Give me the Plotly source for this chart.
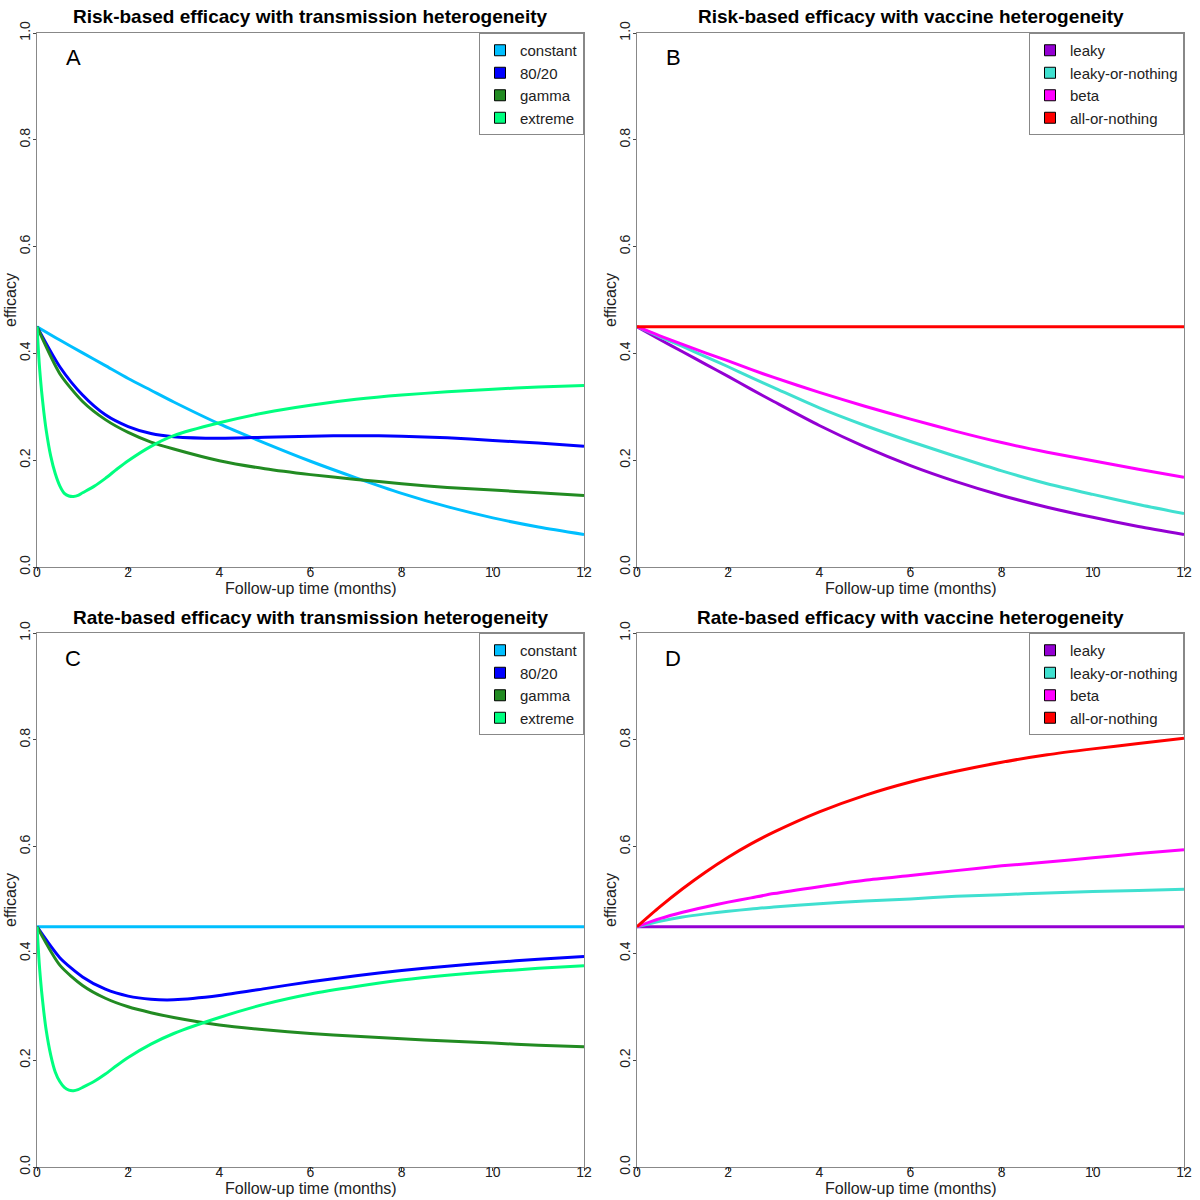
import plotly.graph_objects as go
from plotly.subplots import make_subplots

## Datos (meses de seguimiento vs eficacia)

t_coarse = [0, 0.5, 1, 1.5, 2, 2.5, 3, 4, 5, 6, 7, 8, 9, 10, 11, 12]
t_fine = [0, 0.05, 0.1, 0.15, 0.2, 0.3, 0.4, 0.5, 0.6, 0.7, 0.8, 0.9, 1.0,
          1.25, 1.5, 1.75, 2, 2.5, 3, 4, 5, 6, 7, 8, 9, 10, 11, 12]
t_flat = [0, 12]

# A: risk-based, transmission heterogeneity
a_constant = [0.45, 0.425, 0.401, 0.377, 0.353, 0.331, 0.309, 0.268, 0.232, 0.198,
              0.167, 0.138, 0.113, 0.092, 0.075, 0.061]
a_8020 = [0.45, 0.375, 0.322, 0.285, 0.263, 0.25, 0.244, 0.241, 0.243, 0.245,
          0.246, 0.245, 0.242, 0.237, 0.232, 0.226]
a_gamma = [0.45, 0.362, 0.31, 0.276, 0.252, 0.234, 0.221, 0.199, 0.184, 0.173,
           0.164, 0.156, 0.149, 0.144, 0.139, 0.134]
a_extreme = [0.45, 0.38, 0.33, 0.29, 0.257, 0.208, 0.175, 0.152, 0.138, 0.133,
             0.132, 0.134, 0.139, 0.151, 0.166, 0.183, 0.199, 0.226, 0.246, 0.27,
             0.289, 0.303, 0.314, 0.322, 0.328, 0.333, 0.337, 0.34]

# B: risk-based, vaccine heterogeneity
b_leaky = [0.45, 0.426, 0.403, 0.38, 0.357, 0.333, 0.31, 0.265, 0.225, 0.19,
           0.16, 0.134, 0.112, 0.093, 0.076, 0.061]
b_lon = [0.45, 0.431, 0.413, 0.394, 0.375, 0.355, 0.336, 0.298, 0.265, 0.235,
         0.207, 0.18, 0.156, 0.136, 0.117, 0.10]
b_beta = [0.45, 0.433, 0.417, 0.401, 0.386, 0.37, 0.355, 0.327, 0.301, 0.277,
          0.254, 0.233, 0.215, 0.199, 0.183, 0.168]
b_aon = [0.45, 0.45]

# C: rate-based, transmission heterogeneity
c_constant = [0.45, 0.45]
c_8020 = [0.45, 0.392, 0.356, 0.333, 0.32, 0.314, 0.313, 0.321, 0.334, 0.347,
          0.358, 0.368, 0.376, 0.383, 0.389, 0.394]
c_gamma = [0.45, 0.378, 0.34, 0.316, 0.3, 0.289, 0.28, 0.266, 0.257, 0.25,
           0.245, 0.24, 0.236, 0.232, 0.228, 0.225]
c_extreme = [0.45, 0.38, 0.33, 0.29, 0.257, 0.21, 0.178, 0.16, 0.149, 0.144,
             0.143, 0.145, 0.149, 0.16, 0.174, 0.19, 0.205, 0.23, 0.25, 0.28,
             0.305, 0.324, 0.338, 0.35, 0.359, 0.366, 0.372, 0.377]

# D: rate-based, vaccine heterogeneity
d_leaky = [0.45, 0.45]
d_lon = [0.45, 0.46, 0.468, 0.474, 0.479, 0.483, 0.487, 0.493, 0.498, 0.502,
         0.507, 0.51, 0.513, 0.516, 0.518, 0.52]
d_beta = [0.45, 0.465, 0.477, 0.487, 0.496, 0.504, 0.512, 0.525, 0.537, 0.546,
          0.555, 0.564, 0.571, 0.579, 0.587, 0.594]
d_aon = [0.45, 0.487, 0.521, 0.552, 0.58, 0.605, 0.627, 0.665, 0.696, 0.721,
         0.741, 0.758, 0.772, 0.783, 0.793, 0.803]

titles = ["Risk-based efficacy with transmission heterogeneity",
          "Risk-based efficacy with vaccine heterogeneity",
          "Rate-based efficacy with transmission heterogeneity",
          "Rate-based efficacy with vaccine heterogeneity"]
letters = ["A", "B", "C", "D"]
trans_names = ["constant", "80/20", "gamma", "extreme"]
vacc_names = ["leaky", "leaky-or-nothing", "beta", "all-or-nothing"]
trans_cols = ["#00BFFF", "#0000FF", "#228B22", "#00FF7F"]
vacc_cols = ["#9400D3", "#40E0D0", "#FF00FF", "#FF0000"]
x_ticks = [0, 2, 4, 6, 8, 10, 12]
y_ticks = [0, 0.2, 0.4, 0.6, 0.8, 1.0]
y_ticktext = ["0.0", "0.2", "0.4", "0.6", "0.8", "1.0"]

panels = [
    (1, 1, trans_names, trans_cols,
     [(t_coarse, a_constant), (t_coarse, a_8020), (t_coarse, a_gamma), (t_fine, a_extreme)]),
    (1, 2, vacc_names, vacc_cols,
     [(t_coarse, b_leaky), (t_coarse, b_lon), (t_coarse, b_beta), (t_flat, b_aon)]),
    (2, 1, trans_names, trans_cols,
     [(t_flat, c_constant), (t_coarse, c_8020), (t_coarse, c_gamma), (t_fine, c_extreme)]),
    (2, 2, vacc_names, vacc_cols,
     [(t_flat, d_leaky), (t_coarse, d_lon), (t_coarse, d_beta), (t_coarse, d_aon)]),
]

FONT = "Liberation Sans, Arial, sans-serif"
W = H = 1200

# posiciones de los paneles en pixeles (izq, der, arriba, abajo)
px_x = [(37, 584), (637, 1184)]
px_y = [(33, 567), (633, 1167)]

fig = make_subplots(rows=2, cols=2)

for i, (r, c, names, cols, series) in enumerate(panels):
    leg = "legend" if i == 0 else "legend%d" % (i + 1)
    for k in range(len(series)):
        xs, ys = series[k]
        fig.add_trace(go.Scatter(x=xs, y=ys, mode="lines",
                                 line=dict(color=cols[k], width=3, shape="spline", smoothing=0.7),
                                 showlegend=False, name=names[k]),
                      row=r, col=c)
    # entradas de leyenda con cuadrados
    for k in range(len(names)):
        fig.add_trace(go.Scatter(x=[None], y=[None], mode="markers", name=names[k],
                                 marker=dict(symbol="square", size=11, color=cols[k],
                                             line=dict(color="black", width=1)),
                                 legend=leg),
                      row=r, col=c)

    x0, x1 = px_x[c - 1]
    y0, y1 = px_y[r - 1]
    ax = "" if i == 0 else str(i + 1)
    fig.update_layout({
        "xaxis" + ax: dict(domain=[x0 / W, x1 / W]),
        "yaxis" + ax: dict(domain=[1 - y1 / H, 1 - y0 / H]),
        leg: dict(x=x1 / W, xanchor="right", y=1 - y0 / H, yanchor="top",
                  bgcolor="white", bordercolor="#888888", borderwidth=1,
                  font=dict(family=FONT, size=15, color="#222"),
                  itemwidth=30, tracegroupgap=0),
    })
    # titulo del panel
    fig.add_annotation(text="<b>%s</b>" % titles[i], x=(x0 + x1) / 2 / W, y=1 - (y0 - 16) / H,
                       xref="paper", yref="paper", xanchor="center", yanchor="middle",
                       showarrow=False, font=dict(family=FONT, size=19, color="black"))
    # titulo eje x
    fig.add_annotation(text="Follow-up time (months)", x=(x0 + x1) / 2 / W, y=1 - (y1 + 21) / H,
                       xref="paper", yref="paper", xanchor="center", yanchor="middle",
                       showarrow=False, font=dict(family=FONT, size=16, color="#222"))
    # titulo eje y
    fig.add_annotation(text="efficacy", x=(x0 - 27) / W, y=1 - (y0 + y1) / 2 / H, textangle=-90,
                       xref="paper", yref="paper", xanchor="center", yanchor="middle",
                       showarrow=False, font=dict(family=FONT, size=16, color="#222"))
    # letra del panel
    fig.add_annotation(text=letters[i], x=(73 - 37) / 547 * 12, y=(567 - 58) / 534,
                       xref="x" + ax, yref="y" + ax, showarrow=False,
                       font=dict(family=FONT, size=22, color="black"))

fig.update_xaxes(range=[0, 12], tickvals=x_ticks, ticks="outside", ticklen=3, automargin=False,
                 ticklabelstandoff=-11,
                 showline=True, linecolor="#888888", mirror=True, showgrid=False, zeroline=False,
                 tickfont=dict(family=FONT, size=14, color="#222"), tickcolor="#444")
fig.update_yaxes(range=[0, 1], tickvals=y_ticks, ticktext=y_ticktext, automargin=False,
                 tickangle=-90, ticks="outside", ticklen=3, ticklabelstandoff=-3,
                 showline=True, linecolor="#888888", mirror=True, showgrid=False, zeroline=False,
                 tickfont=dict(family=FONT, size=14, color="#222"), tickcolor="#444")

fig.update_layout(width=W, height=H, margin=dict(l=0, r=0, t=0, b=0, autoexpand=False),
                  plot_bgcolor="white", paper_bgcolor="white",
                  font=dict(family=FONT))

fig.write_html("out.html", config={"displayModeBar": False},
               post_script="document.body.style.margin='0';")
